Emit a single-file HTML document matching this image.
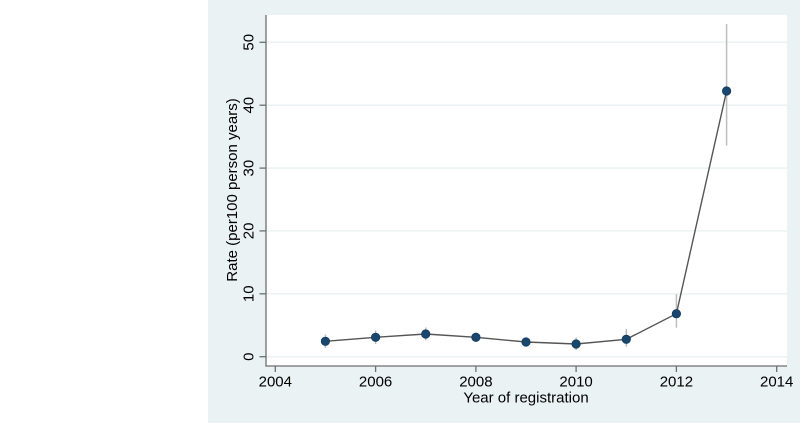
<!DOCTYPE html>
<html><head><meta charset="utf-8"><style>
html,body{margin:0;padding:0;background:#fff;}
svg{display:block;}
text{font-family:"Liberation Sans",Arial,sans-serif;fill:#000;}
</style></head><body>
<svg width="800" height="423" viewBox="0 0 800 423" xmlns="http://www.w3.org/2000/svg">
<rect x="0" y="0" width="800" height="423" fill="#ffffff"/>
<rect x="208" y="0" width="592" height="423" fill="#eaf2f3"/>
<rect x="266" y="15" width="521" height="351" fill="#ffffff"/>
<!-- gridlines -->
<g stroke="#eaf2f3" stroke-width="1.5">
<line x1="266" x2="787" y1="356.7" y2="356.7"/>
<line x1="266" x2="787" y1="293.8" y2="293.8"/>
<line x1="266" x2="787" y1="230.9" y2="230.9"/>
<line x1="266" x2="787" y1="168.1" y2="168.1"/>
<line x1="266" x2="787" y1="105.2" y2="105.2"/>
<line x1="266" x2="787" y1="42.3" y2="42.3"/>
</g>
<!-- axes -->
<g stroke="#6e6e6e" stroke-width="1.3">
<line x1="266" x2="266" y1="15" y2="366.5"/>
<line x1="265.4" x2="787" y1="366" y2="366"/>
<line x1="259.5" x2="266" y1="356.7" y2="356.7"/>
<line x1="259.5" x2="266" y1="293.8" y2="293.8"/>
<line x1="259.5" x2="266" y1="230.9" y2="230.9"/>
<line x1="259.5" x2="266" y1="168.1" y2="168.1"/>
<line x1="259.5" x2="266" y1="105.2" y2="105.2"/>
<line x1="259.5" x2="266" y1="42.3" y2="42.3"/>
<line x1="275.3" x2="275.3" y1="366" y2="372"/>
<line x1="375.6" x2="375.6" y1="366" y2="372"/>
<line x1="475.9" x2="475.9" y1="366" y2="372"/>
<line x1="576.1" x2="576.1" y1="366" y2="372"/>
<line x1="676.4" x2="676.4" y1="366" y2="372"/>
<line x1="776.7" x2="776.7" y1="366" y2="372"/>
</g>
<!-- y tick labels -->
<g font-size="15" text-anchor="middle">
<text transform="translate(253.5,356.7) rotate(-90)">0</text>
<text transform="translate(253.5,293.8) rotate(-90)">10</text>
<text transform="translate(253.5,230.9) rotate(-90)">20</text>
<text transform="translate(253.5,168.1) rotate(-90)">30</text>
<text transform="translate(253.5,105.2) rotate(-90)">40</text>
<text transform="translate(253.5,42.3) rotate(-90)">50</text>
</g>
<!-- x tick labels -->
<g font-size="15" text-anchor="middle">
<text x="275.3" y="386.7">2004</text>
<text x="375.6" y="386.7">2006</text>
<text x="475.9" y="386.7">2008</text>
<text x="576.1" y="386.7">2010</text>
<text x="676.4" y="386.7">2012</text>
<text x="776.7" y="386.7">2014</text>
</g>
<!-- axis titles -->
<text font-size="15" text-anchor="middle" transform="translate(236.8,190) rotate(-90)">Rate (per100 person years)</text>
<text font-size="15" text-anchor="middle" x="526" y="402.5">Year of registration</text>
<!-- CI bars -->
<g stroke="#bdbdbd" stroke-width="1.5">
<line x1="325.4" x2="325.4" y1="334.5" y2="348"/>
<line x1="375.6" x2="375.6" y1="330.5" y2="344"/>
<line x1="425.7" x2="425.7" y1="327.5" y2="340.5"/>
<line x1="475.9" x2="475.9" y1="332.5" y2="342"/>
<line x1="526.0" x2="526.0" y1="337.5" y2="346.5"/>
<line x1="576.1" x2="576.1" y1="337.5" y2="350"/>
<line x1="626.3" x2="626.3" y1="329" y2="346.7"/>
<line x1="676.4" x2="676.4" y1="294.3" y2="327.7"/>
<line x1="726.6" x2="726.6" y1="24" y2="145.7"/>
</g>
<!-- connecting line -->
<polyline fill="none" stroke="#555555" stroke-width="1.4" points="325.4,341.3 375.6,337.3 425.7,334 475.9,337.3 526.0,342 576.1,344 626.3,339.3 676.4,313.7 726.6,91"/>
<!-- markers -->
<g fill="#1a476f" stroke="#123a5c" stroke-width="0.8">
<circle cx="325.4" cy="341.3" r="4.2"/>
<circle cx="375.6" cy="337.3" r="4.2"/>
<circle cx="425.7" cy="334" r="4.2"/>
<circle cx="475.9" cy="337.3" r="4.2"/>
<circle cx="526.0" cy="342" r="4.2"/>
<circle cx="576.1" cy="344" r="4.2"/>
<circle cx="626.3" cy="339.3" r="4.2"/>
<circle cx="676.4" cy="313.7" r="4.2"/>
<circle cx="726.6" cy="91" r="4.2"/>
</g>
</svg>
</body></html>
